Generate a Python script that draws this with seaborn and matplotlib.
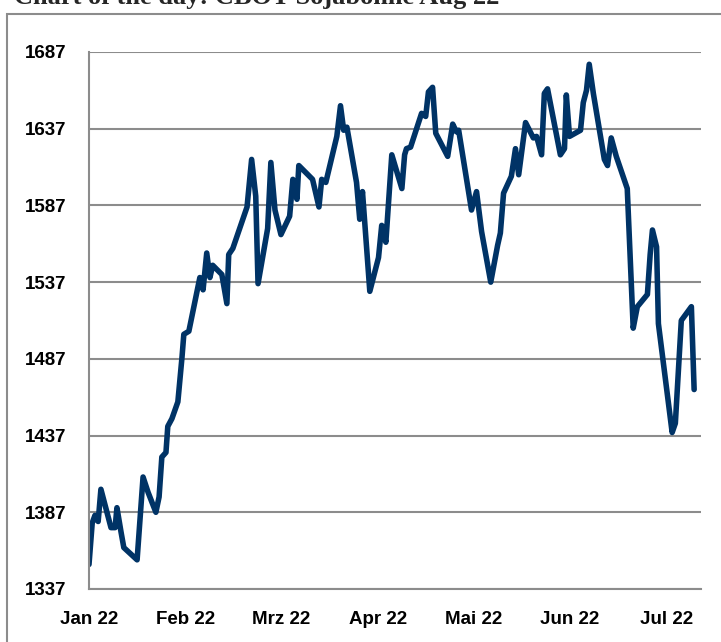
import matplotlib
matplotlib.use("Agg")
import matplotlib.pyplot as plt
import seaborn as sns
from matplotlib.patches import Rectangle

tag = [0.0, 0.7, 1.3, 2.0, 2.6, 4.8, 5.7, 6.1, 7.0, 7.6, 10.5, 11.8, 12.9, 14.6, 15.3,
       15.9, 16.8, 17.2, 18.1, 19.4, 20.3, 20.7, 21.8, 24.2, 24.9, 25.7, 26.4, 27.0,
       29.0, 30.1, 30.5, 31.4, 34.5, 35.5, 36.4, 36.9, 39.0, 39.7, 40.6, 41.9, 43.8,
       44.5, 45.4, 45.8, 48.8, 50.2, 50.8, 51.7, 54.1, 54.9, 55.6, 56.3, 58.4, 59.1,
       59.7, 61.3, 63.2, 63.9, 64.8, 66.1, 68.3, 68.9, 69.3, 70.2, 72.6, 73.5, 74.1,
       75.0, 75.7, 78.3, 79.4, 80.2, 80.7, 83.5, 84.6, 85.7, 87.7, 89.2, 89.8, 90.5,
       92.2, 93.1, 93.8, 95.3, 97.0, 97.7, 98.8, 99.4, 100.1, 102.9, 103.8, 104.2,
       104.9, 107.3, 107.9, 108.6, 109.2, 110.1, 112.5, 113.2, 114.0, 115.1, 117.5,
       118.8, 119.7, 121.9, 122.5, 123.0, 123.9, 124.3, 127.3, 128.0, 129.3, 131.5,
       132.1]
kurs = [1353, 1380, 1385, 1381, 1402, 1377, 1377, 1390, 1374, 1364, 1356, 1410, 1400,
        1387, 1397, 1423, 1426, 1443, 1448, 1459, 1488, 1503, 1505, 1540, 1532, 1556,
        1540, 1548, 1542, 1523, 1555, 1559, 1586, 1617, 1593, 1536, 1572, 1615, 1584,
        1568, 1580, 1604, 1591, 1613, 1604, 1586, 1604, 1602, 1632, 1652, 1636, 1638,
        1602, 1578, 1596, 1531, 1553, 1574, 1563, 1620, 1598, 1620, 1624, 1625, 1647,
        1645, 1661, 1664, 1634, 1619, 1640, 1635, 1636, 1584, 1596, 1570, 1537, 1561,
        1569, 1595, 1606, 1624, 1607, 1641, 1631, 1632, 1620, 1660, 1663, 1620, 1624,
        1659, 1632, 1636, 1654, 1662, 1679, 1660, 1617, 1613, 1631, 1619, 1598, 1507,
        1521, 1529, 1555, 1571, 1560, 1510, 1439, 1445, 1512, 1521, 1467]

monate = ["Jan 22", "Feb 22", "Mrz 22", "Apr 22", "Mai 22", "Jun 22", "Jul 22"]
monat_pos = [0, 21, 42, 63, 84, 105, 126]
y_ticks = [1337, 1387, 1437, 1487, 1537, 1587, 1637, 1687]

sns.set_style("white")
plt.rcParams['font.family'] = ['Liberation Sans', 'DejaVu Sans']

fig = plt.figure(figsize=(7.21, 6.42), dpi=100)
ax = fig.add_axes([89 / 721, 53 / 642, 612 / 721, 537 / 642])

sns.lineplot(x=tag, y=kurs, ax=ax, color="#003366", linewidth=4.0, sort=False)

ax.set_xlim(0, 133.6)
ax.set_ylim(1337, 1687)
ax.set_yticks(y_ticks)
ax.set_xticks(monat_pos)
ax.set_xticklabels(monate)
ax.grid(axis="y", color="#8c8c8c", linewidth=1.5)
ax.set_axisbelow(True)
for side in ["top", "right"]:
    ax.spines[side].set_visible(False)
for side in ["left", "bottom"]:
    ax.spines[side].set_color("#8c8c8c")
    ax.spines[side].set_linewidth(1.5)
ax.tick_params(axis="both", direction="out", length=6, width=1.5, color="#8c8c8c",
               labelsize=13.5, labelcolor="black")
ax.tick_params(axis="y", pad=10)
ax.tick_params(axis="x", pad=10)
for lab in ax.get_xticklabels() + ax.get_yticklabels():
    lab.set_fontweight("bold")
ax.set_xlabel("")
ax.set_ylabel("")

# Rahmen und abgeschnittener Titel
fig.add_artist(Rectangle((7 / 721, -0.1), 1.2, 1 - 14 / 642 + 0.1, transform=fig.transFigure,
                         fill=False, edgecolor="#8c8c8c", linewidth=1.5))
fig.text(14 / 721, 1 - 4 / 642, "Chart of the day: CBOT Sojabohne Aug 22",
         fontsize=19, fontweight="bold", family=["Liberation Serif", "DejaVu Serif"],
         va="baseline", ha="left")

fig.savefig("out.png", dpi=100)
